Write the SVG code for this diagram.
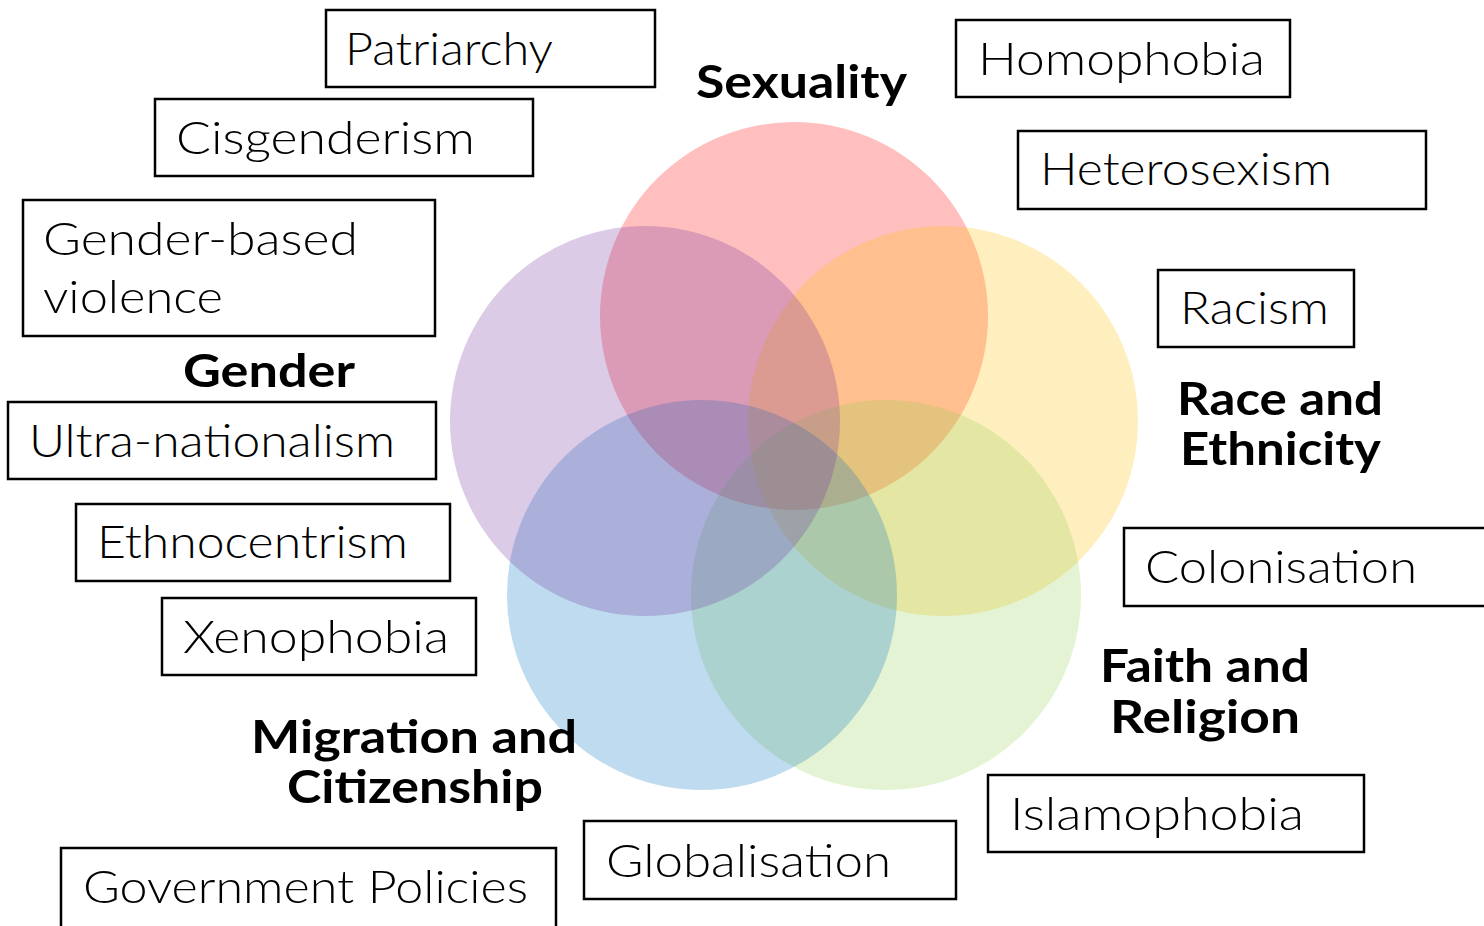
<svg xmlns="http://www.w3.org/2000/svg" width="1484" height="926" viewBox="0 0 1484 926">
<style>
.box{fill:#ffffff;stroke:#000000;stroke-width:2.5}
.t{font-family:Lato,"Open Sans","Liberation Sans",sans-serif;font-size:46px;font-weight:300;fill:#000000}
.b{font-family:Lato,"Open Sans","Liberation Sans",sans-serif;font-size:46px;font-weight:bold;fill:#000000}
.c{fill-opacity:0.25}
</style>
<rect width="1484" height="926" fill="#ffffff"/>
<g id="venn">
  <circle id="sexuality-circle" class="c" cx="794" cy="316" r="194" fill="#FF0000"/>
  <circle id="race-circle" class="c" cx="943" cy="421" r="195" fill="#FFC000"/>
  <circle id="faith-circle" class="c" cx="886" cy="595" r="195" fill="#92D050"/>
  <circle id="migration-circle" class="c" cx="702" cy="595" r="195" fill="#0070C0"/>
  <circle id="gender-circle" class="c" cx="645" cy="421" r="195" fill="#7030A0"/>
</g>
<g id="connectors"/>
<g id="label-sexuality"><text class="b" x="696" y="98" textLength="211" lengthAdjust="spacingAndGlyphs">Sexuality</text></g>
<g id="label-gender"><text class="b" x="183" y="387" textLength="172" lengthAdjust="spacingAndGlyphs">Gender</text></g>
<g id="label-race"><text class="b" x="1177" y="415" textLength="206" lengthAdjust="spacingAndGlyphs">Race and</text><text class="b" x="1180" y="465" textLength="201" lengthAdjust="spacingAndGlyphs">Ethnicity</text></g>
<g id="label-faith"><text class="b" x="1100" y="682" textLength="210" lengthAdjust="spacingAndGlyphs">Faith and</text><text class="b" x="1110" y="733" textLength="190" lengthAdjust="spacingAndGlyphs">Religion</text></g>
<g id="label-migration"><text class="b" x="251" y="753" textLength="326" lengthAdjust="spacingAndGlyphs">Migration and</text><text class="b" x="287" y="803" textLength="256" lengthAdjust="spacingAndGlyphs">Citizenship</text></g>
<g id="box-patriarchy"><rect class="box" x="326" y="10" width="329" height="77"/><text class="t" x="345" y="65" textLength="208" lengthAdjust="spacingAndGlyphs">Patriarchy</text></g>
<g id="box-cisgenderism"><rect class="box" x="155" y="99" width="378" height="77"/><text class="t" x="176" y="154" textLength="299" lengthAdjust="spacingAndGlyphs">Cisgenderism</text></g>
<g id="box-gbv"><rect class="box" x="23" y="200" width="412" height="136"/><text class="t" x="43" y="255" textLength="315" lengthAdjust="spacingAndGlyphs">Gender-based</text><text class="t" x="43" y="313" textLength="180" lengthAdjust="spacingAndGlyphs">violence</text></g>
<g id="box-ultranationalism"><rect class="box" x="8" y="402" width="428" height="77"/><text class="t" x="29" y="457" textLength="366" lengthAdjust="spacingAndGlyphs">Ultra-nationalism</text></g>
<g id="box-ethnocentrism"><rect class="box" x="76" y="504" width="374" height="77"/><text class="t" x="97" y="558" textLength="311" lengthAdjust="spacingAndGlyphs">Ethnocentrism</text></g>
<g id="box-xenophobia"><rect class="box" x="162" y="598" width="314" height="77"/><text class="t" x="183" y="653" textLength="266" lengthAdjust="spacingAndGlyphs">Xenophobia</text></g>
<g id="box-homophobia"><rect class="box" x="956" y="20" width="334" height="77"/><text class="t" x="978" y="75" textLength="287" lengthAdjust="spacingAndGlyphs">Homophobia</text></g>
<g id="box-heterosexism"><rect class="box" x="1018" y="131" width="408" height="78"/><text class="t" x="1040" y="185" textLength="292" lengthAdjust="spacingAndGlyphs">Heterosexism</text></g>
<g id="box-racism"><rect class="box" x="1158" y="270" width="196" height="77"/><text class="t" x="1180" y="324" textLength="149" lengthAdjust="spacingAndGlyphs">Racism</text></g>
<g id="box-colonisation"><rect class="box" x="1124" y="528" width="380" height="78"/><text class="t" x="1145" y="583" textLength="272" lengthAdjust="spacingAndGlyphs">Colonisation</text></g>
<g id="box-islamophobia"><rect class="box" x="988" y="775" width="376" height="77"/><text class="t" x="1010" y="830" textLength="294" lengthAdjust="spacingAndGlyphs">Islamophobia</text></g>
<g id="box-globalisation"><rect class="box" x="584" y="821" width="372" height="78"/><text class="t" x="606" y="877" textLength="285" lengthAdjust="spacingAndGlyphs">Globalisation</text></g>
<g id="box-government"><rect class="box" x="61" y="848" width="495" height="80"/><text class="t" x="83" y="903" textLength="445" lengthAdjust="spacingAndGlyphs">Government Policies</text></g>
</svg>
